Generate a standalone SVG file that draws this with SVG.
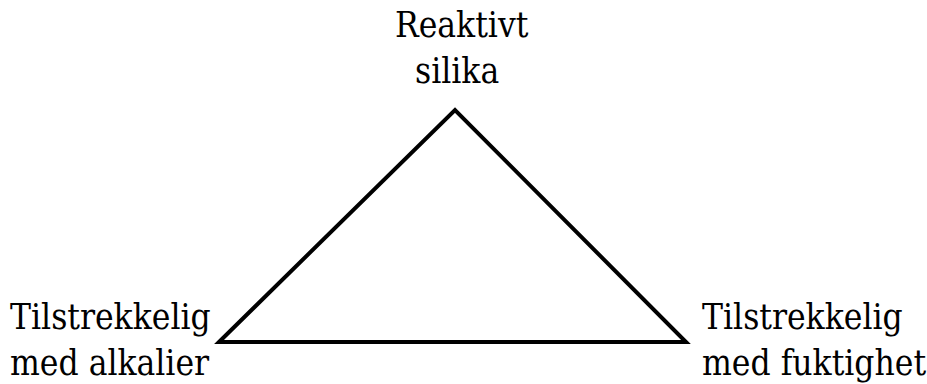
<svg xmlns="http://www.w3.org/2000/svg" width="927" height="384" viewBox="0 0 927 384">
<style>
text{font-family:'DejaVu Serif Condensed','DejaVu Serif',serif;font-size:35px;fill:#000}
.edge{fill:none;stroke:#000;stroke-width:4;stroke-linejoin:miter}
</style>
<rect width="927" height="384" fill="#fff"/>
<g id="connectors">
<polygon class="edge" points="219,342 455,110 686,342"/>
</g>
<g id="node-top">
<text x="395" y="37">Reaktivt</text>
<text x="415" y="83">silika</text>
</g>
<g id="node-left">
<text x="10" y="329">Tilstrekkelig</text>
<text x="10" y="375">med alkalier</text>
</g>
<g id="node-right">
<text x="702" y="329">Tilstrekkelig</text>
<text x="702" y="375">med fuktighet</text>
</g>
</svg>
